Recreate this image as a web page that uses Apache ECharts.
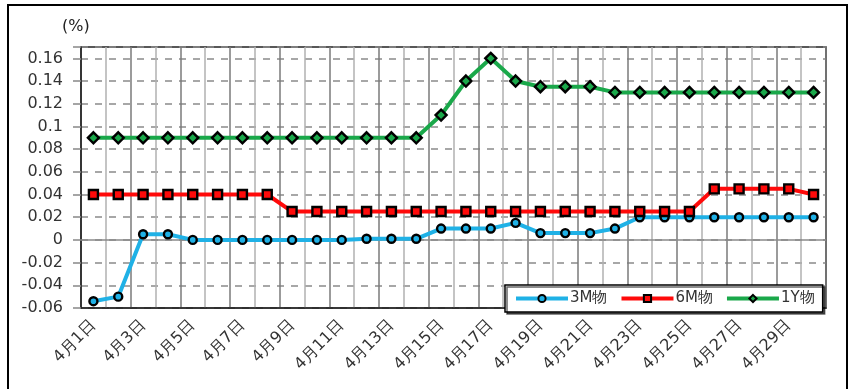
<!DOCTYPE html>
<html>
<head>
<meta charset="utf-8">
<script src="https://cdn.jsdelivr.net/npm/echarts@6/dist/echarts.min.js"></script>
<style>
  html, body { margin: 0; padding: 0; background: #fff; }
  #chart { width: 854px; height: 389px; }
</style>
</head>
<body>
<div id="chart"></div>
<script>
// Daily yields (%) for April, day 1 to 30
const days = [];
for (let d = 1; d <= 30; d++) days.push('4月' + d + '日');

const yield3M = [-0.054, -0.050, 0.005, 0.005, 0, 0, 0, 0, 0, 0,
                 0, 0.001, 0.001, 0.001, 0.010, 0.010, 0.010, 0.015, 0.006, 0.006,
                 0.006, 0.010, 0.020, 0.020, 0.020, 0.020, 0.020, 0.020, 0.020, 0.020];
const yield6M = [0.040, 0.040, 0.040, 0.040, 0.040, 0.040, 0.040, 0.040, 0.025, 0.025,
                 0.025, 0.025, 0.025, 0.025, 0.025, 0.025, 0.025, 0.025, 0.025, 0.025,
                 0.025, 0.025, 0.025, 0.025, 0.025, 0.045, 0.045, 0.045, 0.045, 0.040];
const yield1Y = [0.090, 0.090, 0.090, 0.090, 0.090, 0.090, 0.090, 0.090, 0.090, 0.090,
                 0.090, 0.090, 0.090, 0.090, 0.110, 0.140, 0.160, 0.140, 0.135, 0.135,
                 0.135, 0.130, 0.130, 0.130, 0.130, 0.130, 0.130, 0.130, 0.130, 0.130];

const seriesNames = ['3M物', '6M物', '1Y物'];
const fontFamily = '"DejaVu Sans", Verdana, sans-serif';
const diamond = 'path://M0,-1 L1,0 L0,1 L-1,0 Z';

function lineSeries(name, data, color, symbol, size) {
  return {
    name: name,
    type: 'line',
    data: data,
    symbol: symbol,
    symbolSize: size,
    showAllSymbol: true,
    lineStyle: { color: color, width: 4 },
    itemStyle: { color: color, borderColor: '#000', borderWidth: 2.4 },
    z: 3
  };
}

const s3M = lineSeries(seriesNames[0], yield3M, '#1fb1e6', 'circle', 8);
// solid line at zero
s3M.markLine = {
  silent: true,
  symbol: 'none',
  label: { show: false },
  lineStyle: { color: '#8a8a8a', type: 'solid', width: 1.5 },
  data: [{ yAxis: 0 }],
  z: 1
};

const chart = echarts.init(document.getElementById('chart'));
chart.setOption({
  backgroundColor: '#fff',
  animation: false,
  textStyle: { fontFamily: fontFamily },
  graphic: [
    {
      type: 'rect',
      shape: { x: 8, y: 5, width: 839, height: 395 },
      style: { fill: 'none', stroke: '#000', lineWidth: 2 },
      silent: true
    },
    {
      type: 'text',
      left: 62, top: 19,
      style: { text: '(%)', font: '16px ' + fontFamily, fill: '#222' }
    }
  ],
  grid: {
    left: 81, right: 28, top: 47, bottom: 81,
    show: true, borderColor: '#222', borderWidth: 1.5, backgroundColor: 'transparent'
  },
  legend: {
    data: seriesNames,
    left: 505, top: 285,
    padding: [6, 8, 6, 9],
    itemGap: 12,
    itemWidth: 52,
    itemHeight: 9,
    backgroundColor: '#fff',
    borderColor: '#000',
    borderWidth: 1.5,
    shadowColor: 'rgba(0,0,0,0.6)',
    shadowOffsetX: 2,
    shadowOffsetY: 2,
    lineStyle: { width: 4 },
    textStyle: { fontSize: 15, color: '#333', fontFamily: fontFamily, padding: [0, 0, 0, -3] }
  },
  xAxis: {
    type: 'category',
    data: days,
    boundaryGap: true,
    axisLine: { onZero: false, lineStyle: { color: '#222', width: 1.5 } },
    axisTick: { show: false },
    axisLabel: {
      interval: 1,
      rotate: 45,
      fontSize: 16,
      color: '#333',
      margin: 15
    },
    splitLine: {
      show: true,
      interval: 0,
      lineStyle: { color: ['#7a7a7a', '#b0b0b0'], width: 1.5 }
    }
  },
  yAxis: {
    type: 'value',
    min: -0.06,
    max: 0.17,
    interval: 0.02,
    axisLine: { show: true, lineStyle: { color: '#222', width: 1.5 } },
    axisTick: { show: true, length: 8, lineStyle: { color: '#888', width: 1.5 } },
    axisLabel: {
      fontSize: 16,
      color: '#333',
      margin: 18,
      formatter: function (v) {
        if (v > 0.165) return '';
        return String(parseFloat(v.toFixed(2)));
      }
    },
    splitLine: {
      show: true,
      lineStyle: { color: '#8a8a8a', type: [7, 7], width: 1.5 }
    }
  },
  series: [
    s3M,
    lineSeries(seriesNames[1], yield6M, '#ff0a0a', 'rect', 9),
    lineSeries(seriesNames[2], yield1Y, '#1aa84a', diamond, 11)
  ]
});
</script>
</body>
</html>
